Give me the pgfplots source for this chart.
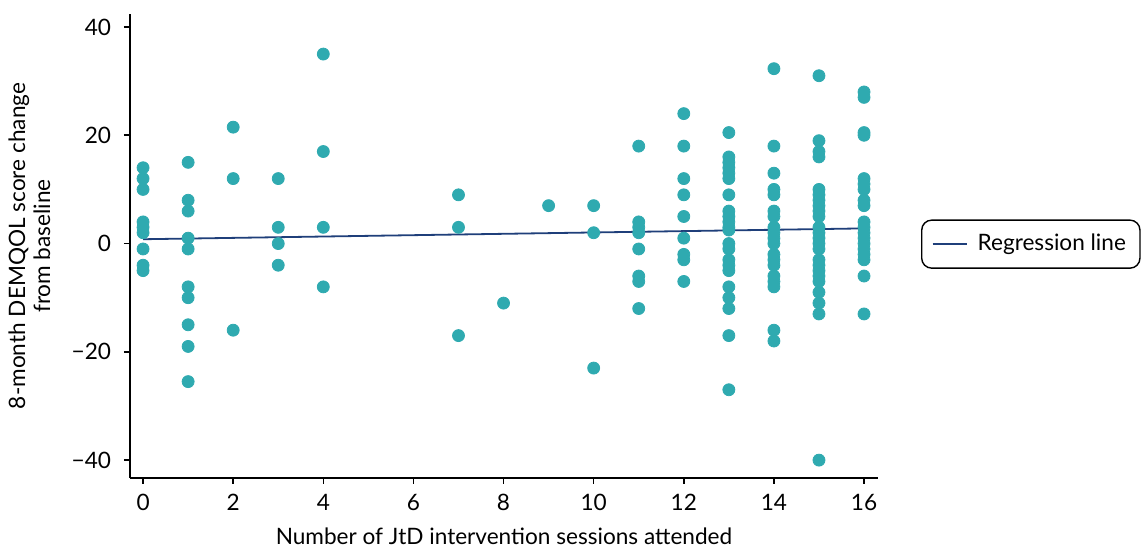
\documentclass[border=0pt]{standalone}
\usepackage{pgfplots}
\pgfplotsset{compat=1.18}
\usepackage{fontspec}
\setmainfont{Lato}
\definecolor{dotc}{HTML}{2FAAB0}
\definecolor{linec}{HTML}{1F3F7A}
\begin{document}
\fontsize{11.3pt}{13.5pt}\selectfont
\begin{tikzpicture}
\begin{axis}[
  name=ax, at={(0,0)}, anchor=south west,
  scale only axis, width=374pt, height=232pt,
  xmin=-0.29, xmax=16.31, ymin=-43.3, ymax=42.4,
  axis lines*=left, axis line style={-, line width=0.8pt},
  tick align=outside, major tick length=3pt,
  tick style={line width=0.8pt, black},
  xtick={0,2,...,16},
  ytick={-40,-20,0,20,40},
  yticklabels={−40,−20,0,20,40},
  /pgf/number format/assume math mode=true,
  ticklabel style={font=\fontsize{11.3pt}{13.5pt}\selectfont},
  yticklabel style={xshift=-2.5pt},
  xticklabel style={yshift=-1pt},
  xlabel={Number of JtD intervention sessions attended},
  ylabel={8-month DEMQOL score change\\from baseline},
  ylabel style={align=center, font=\fontsize{11.3pt}{12.5pt}\selectfont},
  ylabel shift=3pt,
  xlabel style={font=\fontsize{11.3pt}{13.5pt}\selectfont},
  xlabel shift=1pt,
  legend style={at={(1.0575,0.504)}, anchor=west, rounded corners=5pt, draw=black, line width=0.7pt, inner xsep=5pt, inner ysep=5pt, font=\fontsize{11.3pt}{13.5pt}\selectfont,
    /tikz/every odd column/.append style={column sep=3pt}},
  legend cell align=left,
  clip=false,
]
\addplot[only marks, mark=*, mark size=3pt, color=dotc, forget plot] coordinates {
(0,14) (0,12) (0,10) (0,4) (0,3) (0,2) (0,-1) (0,-4) (0,-5)
(1,15) (1,8) (1,6) (1,1) (1,-1) (1,-8) (1,-10) (1,-15) (1,-19) (1,-25.5)
(2,21.5) (2,12) (2,-16)
(3,12) (3,3) (3,0) (3,-4)
(4,35) (4,17) (4,3) (4,-8)
(7,9) (7,3) (7,-17)
(8,-11)
(9,7)
(10,7) (10,2) (10,-23)
(11,18) (11,4) (11,3) (11,2) (11,-1) (11,-6) (11,-7) (11,-12)
(12,24) (12,18) (12,12) (12,9) (12,5) (12,1) (12,-2) (12,-3) (12,-7)
(13,20.5) (13,16) (13,15) (13,14) (13,13) (13,12) (13,9) (13,6) (13,5) (13,4) (13,3) (13,2.5) (13,0) (13,-1) (13,-3) (13,-4) (13,-5) (13,-8) (13,-10) (13,-12) (13,-17) (13,-27)
(14,32.3) (14,18) (14,13) (14,10) (14,9) (14,6) (14,5) (14,3) (14,2) (14,1) (14,0) (14,-2) (14,-3) (14,-4) (14,-6) (14,-7) (14,-8) (14,-16) (14,-18)
(15,31) (15,19) (15,17) (15,16) (15,10) (15,9) (15,8) (15,7) (15,6) (15,5) (15,3) (15,2) (15,1) (15,0) (15,-1) (15,-3) (15,-4) (15,-5) (15,-6) (15,-7) (15,-9) (15,-11) (15,-13) (15,-40)
(16,28) (16,27) (16,20.5) (16,20) (16,12) (16,11) (16,10) (16,8) (16,7) (16,4) (16,3) (16,2) (16,1) (16,0) (16,-1) (16,-2) (16,-3) (16,-6) (16,-13)
};
\addplot[color=linec, line width=0.9pt] coordinates {(0,0.8) (16,2.8)};
\addlegendentry{Regression line}
\end{axis}
\path[use as bounding box] (-65pt,-33.5pt) rectangle (508pt,239pt);
\end{tikzpicture}
\end{document}
